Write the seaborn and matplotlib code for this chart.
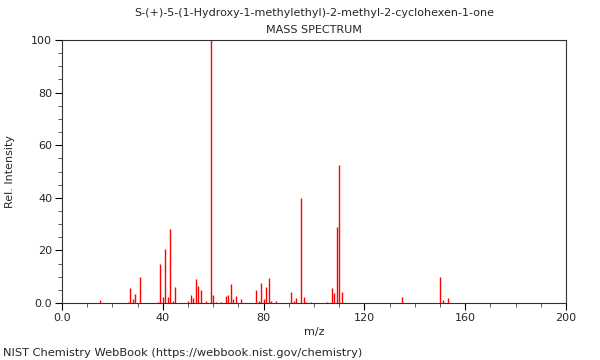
import numpy as np
import pandas as pd
import seaborn as sns
import matplotlib.pyplot as plt
from matplotlib.ticker import MultipleLocator, FixedFormatter, FixedLocator

mz = [15, 26, 27, 28, 29, 31, 38, 39, 40, 41, 42, 43, 44, 45,
      50, 51, 52, 53, 54, 55, 57, 59, 60, 61, 63, 65, 66, 67, 68, 69, 71,
      77, 78, 79, 80, 81, 82, 83, 85, 91, 92, 93, 95, 96, 97, 99,
      105, 107, 108, 109, 110, 111, 135, 150, 151, 153]
intensity = [1.1, 0.4, 5.8, 1.5, 3.4, 9.9, 0.5, 14.9, 2.4, 20.6, 2.2, 28.0, 0.6, 6.0,
             0.9, 2.9, 1.8, 9.2, 6.5, 4.8, 0.7, 100.0, 3.2, 0.4, 0.5, 2.5, 2.9, 7.3, 1.5, 2.7, 1.4,
             4.9, 0.8, 7.6, 1.5, 6.1, 9.4, 0.8, 0.8, 4.1, 0.9, 1.9, 40.0, 2.3, 0.4, 0.4,
             0.5, 5.8, 3.7, 28.8, 52.4, 4.2, 2.2, 9.7, 1.0, 1.9]

df = pd.DataFrame({'mz': mz, 'intensity': intensity})

sns.set_style("ticks")
plt.rcParams['font.family'] = ['DejaVu Sans']

fig = plt.figure(figsize=(6, 3.6), dpi=100)
ax = fig.add_axes([62 / 600, 1 - 303 / 360, 504 / 600, 263 / 360])

ax.vlines(df['mz'], 0, df['intensity'], color='#ff0000', linewidth=1)

ax.set_xlim(0, 200)
ax.set_ylim(0, 100)

ax.xaxis.set_major_locator(FixedLocator([0, 40, 80, 120, 160, 200]))
ax.xaxis.set_major_formatter(FixedFormatter(['0.0', '40', '80', '120', '160', '200']))
ax.xaxis.set_minor_locator(MultipleLocator(10))
ax.yaxis.set_major_locator(FixedLocator([0, 20, 40, 60, 80, 100]))
ax.yaxis.set_major_formatter(FixedFormatter(['0.0', '20', '40', '60', '80', '100']))
ax.yaxis.set_minor_locator(MultipleLocator(5))

ax.tick_params(which='major', length=5, width=0.8, labelsize=8, color='black', pad=2)
ax.tick_params(which='minor', length=3, width=0.6, color='#444444')

for s in ax.spines.values():
    s.set_color('#333333')
    s.set_linewidth(0.8)
    s.set_visible(True)

ax.set_xlabel('m/z', fontsize=8, labelpad=3)
ax.set_ylabel('Rel. Intensity', fontsize=8, labelpad=12)

fig.text(0.5 * (62 + 566) / 600, 1 - 13 / 360,
         'S-(+)-5-(1-Hydroxy-1-methylethyl)-2-methyl-2-cyclohexen-1-one',
         ha='center', va='center', fontsize=8)
fig.text(0.5 * (62 + 566) / 600, 1 - 30 / 360, 'MASS SPECTRUM',
         ha='center', va='center', fontsize=8)
fig.text(3 / 600, 1 - 353 / 360,
         'NIST Chemistry WebBook (https://webbook.nist.gov/chemistry)',
         ha='left', va='center', fontsize=8.2)

fig.savefig('out.png', dpi=100)
